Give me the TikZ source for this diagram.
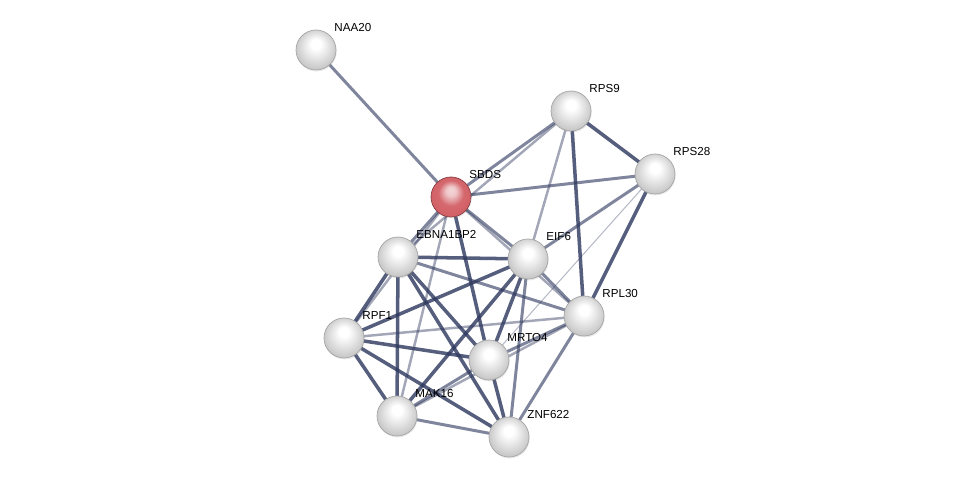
\documentclass[tikz,border=0pt]{standalone}
\usepackage{fontspec}
\setsansfont{Liberation Sans}
\usetikzlibrary{backgrounds, shadows}

\definecolor{edgeblue}{RGB}{48,58,95}
\definecolor{sbdsred}{RGB}{210,96,102}
\pgfdeclareradialshading{greyball}{\pgfpoint{0bp}{9bp}}{color(0bp)=(white); color(6bp)=(white); color(16bp)=(black!11); color(26bp)=(black!22); color(31bp)=(black!30); color(34bp)=(black!42)}
\pgfdeclareradialshading{redball}{\pgfpoint{0bp}{9bp}}{color(0bp)=(sbdsred!25!white); color(6bp)=(sbdsred!35!white); color(16bp)=(sbdsred!95!white); color(26bp)=(sbdsred); color(31bp)=(sbdsred!90!black); color(34bp)=(sbdsred!70!black)}

\begin{document}
\begin{tikzpicture}[
        x=0.02cm, y=-0.02cm,
        prot/.style={circle, minimum size=0.8cm, inner sep=0pt, outer sep=0pt, draw=black!35, line width=0.4pt, shading=greyball, drop shadow={opacity=0.18, shadow xshift=0.4pt, shadow yshift=-0.8pt}},
        query/.style={prot, draw=sbdsred!65!black, shading=redball},
        lbl/.style={font=\sffamily\fontsize{6.6}{8}\selectfont, label distance=-1.5pt},
        tag/.style={label={[lbl]45:#1}},
        hiconf/.style={draw=edgeblue, line width=2pt, draw opacity=0.82},
        midconf/.style={draw=edgeblue, line width=1.7pt, draw opacity=0.62},
        loconf/.style={draw=edgeblue, line width=1.4pt, draw opacity=0.45},
        minconf/.style={draw=edgeblue, line width=0.6pt, draw opacity=0.35}
        ]
        \useasboundingbox (0,0) rectangle (975,482);

        \node (naa20) [prot, tag=NAA20] at (316,50) {};
        \node (rps9) [prot, tag=RPS9] at (571,111) {};
        \node (rps28) [prot, tag=RPS28] at (655,174) {};
        \node (sbds) [query, tag=SBDS] at (451,197) {};
        \node (ebna) [prot, tag=EBNA1BP2] at (398,257) {};
        \node (eif6) [prot, tag=EIF6] at (528,259) {};
        \node (rpl30) [prot, tag=RPL30] at (584,316) {};
        \node (rpf1) [prot, tag=RPF1] at (344,338) {};
        \node (mrto4) [prot, tag=MRTO4] at (489,360) {};
        \node (mak16) [prot, tag=MAK16] at (397,416) {};
        \node (znf622) [prot, tag=ZNF622] at (509,437) {};

        \begin{scope}[on background layer]
        \draw [midconf] (sbds) -- (naa20);
        \draw [midconf] (sbds) -- (rps9);
        \draw [loconf] (ebna) -- (rps9);
        \draw [midconf] (sbds) -- (rps28);
        \draw [midconf] (sbds) -- (eif6);
        \draw [midconf] (sbds) -- (ebna);
        \draw [loconf] (sbds) -- (rpf1);
        \draw [loconf] (sbds) -- (mak16);
        \draw [hiconf] (sbds) -- (mrto4);
        \draw [loconf] (sbds) -- (rpl30);
        \draw [hiconf] (rps9) -- (rps28);
        \draw [hiconf] (rps9) -- (rpl30);
        \draw [loconf] (rps9) -- (eif6);
        \draw [midconf] (rps28) -- (eif6);
        \draw [minconf] (rps28) -- (mrto4);
        \draw [hiconf] (rps28) -- (rpl30);
        \draw [hiconf] (ebna) -- (eif6);
        \draw [hiconf] (ebna) -- (rpf1);
        \draw [hiconf] (ebna) -- (mak16);
        \draw [hiconf] (ebna) -- (mrto4);
        \draw [hiconf] (ebna) -- (znf622);
        \draw [midconf] (ebna) -- (rpl30);
        \draw [hiconf] (eif6) -- (rpf1);
        \draw [hiconf] (eif6) -- (mak16);
        \draw [hiconf] (eif6) -- (mrto4);
        \draw [midconf] (eif6) -- (znf622);
        \draw [midconf] (eif6) -- (rpl30);
        \draw [loconf] (rpf1) -- (rpl30);
        \draw [hiconf] (rpf1) -- (mrto4);
        \draw [hiconf] (rpf1) -- (znf622);
        \draw [hiconf] (rpf1) -- (mak16);
        \draw [midconf] (mak16) -- (mrto4);
        \draw [midconf] (mak16) -- (znf622);
        \draw [loconf] (mak16) -- (rpl30);
        \draw [hiconf] (mrto4) -- (znf622);
        \draw [midconf] (mrto4) -- (rpl30);
        \draw [midconf] (rpl30) -- (znf622);
        \end{scope}
    \end{tikzpicture}
\end{document}
